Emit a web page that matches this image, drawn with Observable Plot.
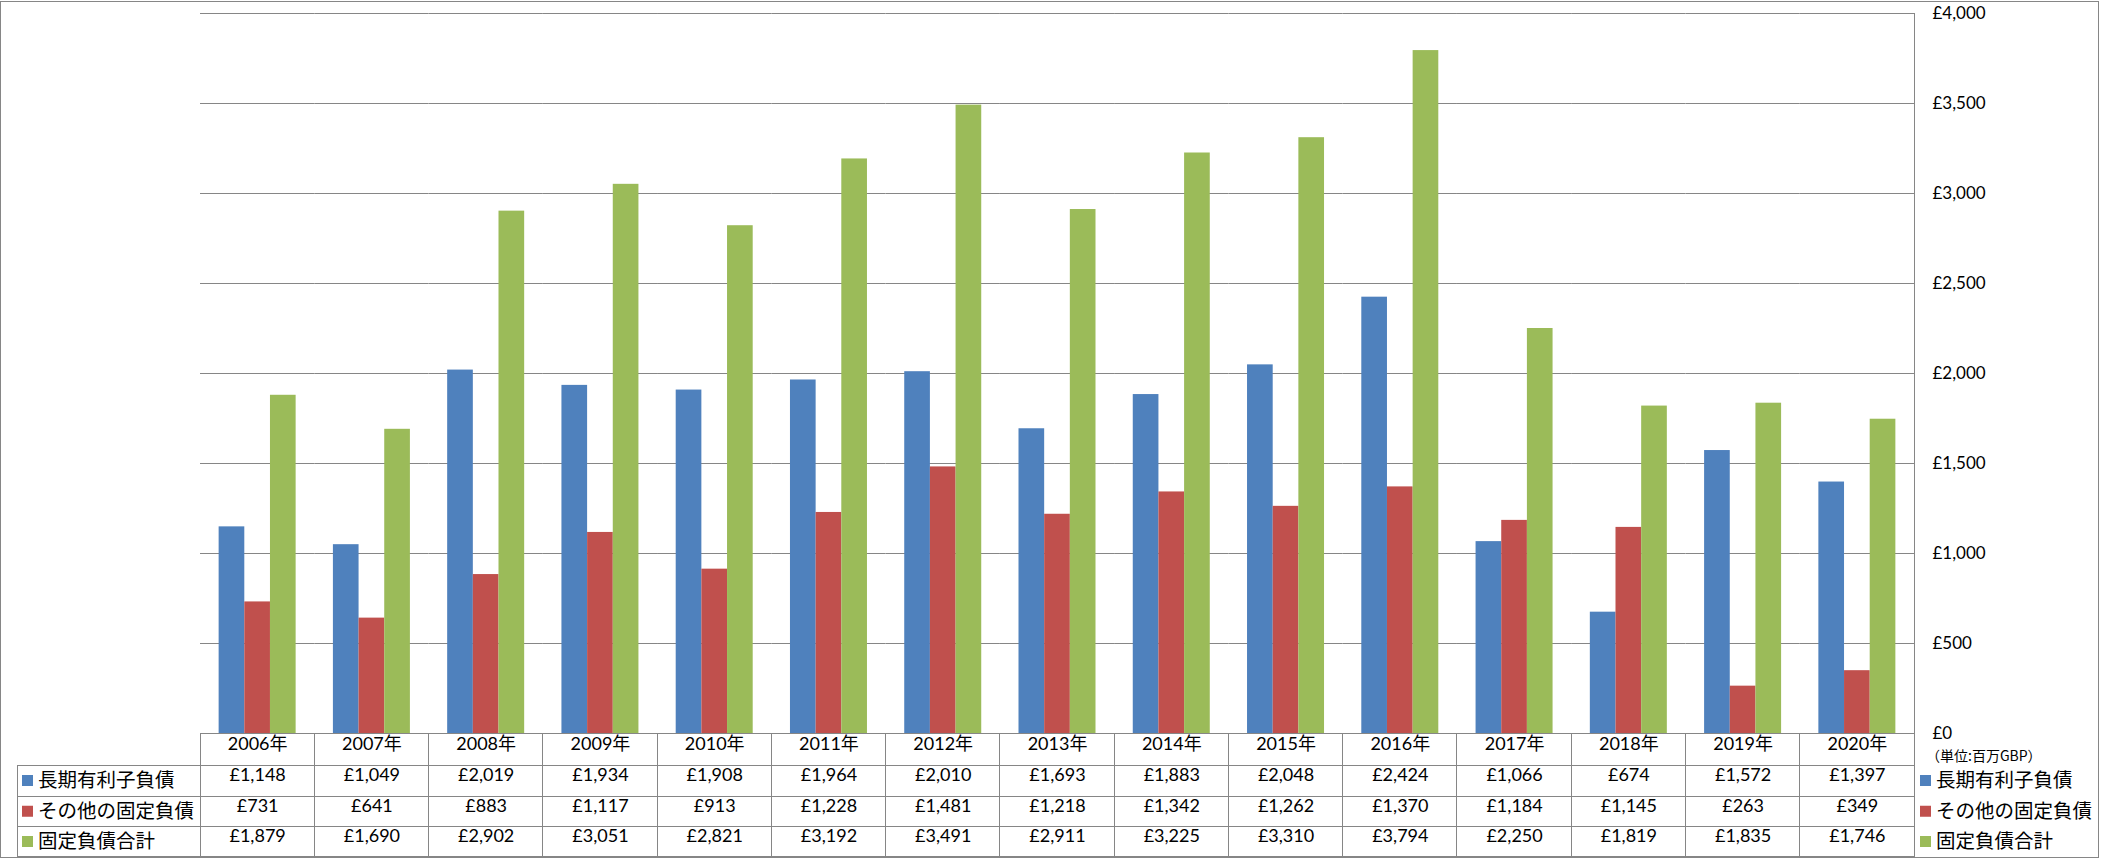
<!DOCTYPE html>
<html><head><meta charset="utf-8">
<script src="https://cdn.jsdelivr.net/npm/d3@7"></script>
<script src="https://cdn.jsdelivr.net/npm/@observablehq/plot@0.6"></script>
<style>
html,body{margin:0;padding:0;background:#fff;}
#chart{position:relative;width:2101px;height:858px;overflow:hidden;}
#chart svg{display:block;}
</style></head><body><div id="chart"></div>
<script>
const years = ["2006年","2007年","2008年","2009年","2010年","2011年","2012年","2013年","2014年","2015年","2016年","2017年","2018年","2019年","2020年"];
const seriesNames = ["長期有利子負債","その他の固定負債","固定負債合計"];
const longTermDebt = [1148,1049,2019,1934,1908,1964,2010,1693,1883,2048,2424,1066,674,1572,1397];
const otherFixed = [731,641,883,1117,913,1228,1481,1218,1342,1262,1370,1184,1145,263,349];
const totalFixed = [1879,1690,2902,3051,2821,3192,3491,2911,3225,3310,3794,2250,1819,1835,1746];
const seriesColors = ["#4F81BD","#C0504D","#9BBB59"];
const yTicks = [0,500,1000,1500,2000,2500,3000,3500,4000];
const unitLabel = "（単位:百万GBP）";

const seriesValues = [longTermDebt, otherFixed, totalFixed];
const rows = [];
years.forEach((yr, i) => seriesNames.forEach((s, j) => rows.push({year: yr, series: s, value: seriesValues[j][i]})));

const fmt = d => "£" + d3.format(",")(d);
const numFont = "Lato, 'Noto Sans CJK JP', sans-serif";
const jpFont = "'Noto Sans CJK JP', sans-serif";
const lineColor = "#868686";

const rowOffsets = [47.5, 78, 108.5];

const chart = Plot.plot({
  width: 2101, height: 858,
  marginTop: 13, marginBottom: 125, marginLeft: 200, marginRight: 187,
  style: {fontFamily: numFont, fontSize: "17px", color: "#000", background: "#fff", overflow: "visible"},
  fx: {domain: years, padding: 0, round: false, axis: null, label: null},
  x: {domain: seriesNames, paddingInner: 0, paddingOuter: 0.726, round: false, axis: null},
  y: {domain: [0, 4000], label: null},
  color: {domain: seriesNames, range: seriesColors},
  marks: [
    Plot.gridY(yTicks, {stroke: lineColor, strokeOpacity: 1, strokeWidth: 1}),
    Plot.barY(rows, {fx: "year", x: "series", y: "value", fill: "series"}),
    Plot.axisY(yTicks, {anchor: "right", tickSize: 0, tickPadding: 18, tickFormat: fmt, fontSize: 17, label: null, fill: "#000"}),
    Plot.text(years, {fx: d => d, text: d => d, frameAnchor: "bottom", dy: 16, fontSize: 18, fill: "#000"}),
    ...seriesNames.map((s, j) => Plot.text(rows.filter(r => r.series === s), {
      fx: "year", text: d => fmt(d.value), frameAnchor: "bottom", dy: rowOffsets[j], fontSize: 18, fill: "#000"
    }))
  ]
});
document.getElementById("chart").appendChild(chart);

// Table grid, legend and frame overlay using the plot's scales
const svg = d3.select(chart);
const fxS = chart.scale("fx");
const yS = chart.scale("y");
const bw = fxS.bandwidth;
const left = fxS.apply(years[0]);
const right = fxS.apply(years[years.length - 1]) + bw;
const y0 = yS.apply(0);
const yTop = yS.apply(4000);
const rowLines = [y0 + 32, y0 + 63, y0 + 93.5, y0 + 123.5];
const labelLeft = 17;
const g = svg.append("g").attr("stroke", lineColor).attr("stroke-width", 1).attr("fill", "none").attr("shape-rendering", "crispEdges");
g.append("line").attr("x1", left).attr("x2", right).attr("y1", y0).attr("y2", y0);
rowLines.forEach(y => g.append("line").attr("x1", labelLeft).attr("x2", right).attr("y1", y).attr("y2", y));
years.forEach(yr => {
  const x = fxS.apply(yr);
  g.append("line").attr("x1", x).attr("x2", x).attr("y1", y0).attr("y2", rowLines[3]);
});
g.append("line").attr("x1", right).attr("x2", right).attr("y1", yTop).attr("y2", rowLines[3]);
g.append("line").attr("x1", labelLeft).attr("x2", labelLeft).attr("y1", rowLines[0]).attr("y2", rowLines[3]);
g.append("rect").attr("x", 0.5).attr("y", 1.5).attr("width", 2097.5).attr("height", 855.5);

const tg = svg.append("g").attr("text-anchor", "start").attr("fill", "#000").attr("font-family", jpFont);
const rowCenters = [(rowLines[0] + rowLines[1]) / 2, (rowLines[1] + rowLines[2]) / 2, (rowLines[2] + rowLines[3]) / 2];
seriesNames.forEach((s, j) => {
  tg.append("rect").attr("x", 22).attr("y", rowCenters[j] - 5.5).attr("width", 11).attr("height", 11).attr("fill", seriesColors[j]);
  tg.append("text").attr("x", 38).attr("y", rowCenters[j]).attr("dy", "0.35em")
    .attr("font-size", 19.5).text(s);
  tg.append("rect").attr("x", 1920).attr("y", rowCenters[j] - 5.5).attr("width", 11).attr("height", 11).attr("fill", seriesColors[j]);
  tg.append("text").attr("x", 1936).attr("y", rowCenters[j]).attr("dy", "0.35em")
    .attr("font-size", 19.5).text(s);
});
tg.append("text").attr("x", 1926).attr("y", y0 + 23).attr("dy", "0.35em")
  .attr("font-size", 14).text(unitLabel);
</script>
</body></html>
